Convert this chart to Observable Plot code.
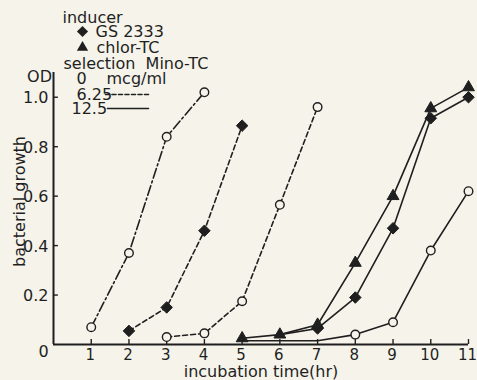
<!DOCTYPE html>
<html>
<head>
<meta charset="utf-8">
<script src="https://cdn.jsdelivr.net/npm/d3@7"></script>
<script src="https://cdn.jsdelivr.net/npm/@observablehq/plot@0.6"></script>
<style>
  html, body { margin: 0; padding: 0; background: #f5f3ea; }
  #chart svg { display: block; }
</style>
</head>
<body>
<div id="chart"></div>
<script>
// ---- data ----
const xTicks = [1, 2, 3, 4, 5, 6, 7, 8, 9, 10, 11];
const yTicks = [0.2, 0.4, 0.6, 0.8, 1.0];

// selection 0 mcg/ml (no inducer, open circles)
const hoursNone0 = [1, 2, 3, 4];
const odNone0 = [0.07, 0.37, 0.84, 1.02];
// selection 6.25 mcg/ml, inducer GS 2333
const hoursGS625 = [2, 3, 4, 5];
const odGS625 = [0.055, 0.15, 0.46, 0.885];
// selection 6.25 mcg/ml, no inducer
const hoursNone625 = [3, 4, 5, 6, 7];
const odNone625 = [0.03, 0.045, 0.175, 0.565, 0.96];
// selection 12.5 mcg/ml, inducer chlor-TC
const hoursTC125 = [5, 6, 7, 8, 9, 10, 11];
const odTC125 = [0.025, 0.04, 0.08, 0.33, 0.60, 0.955, 1.04];
// selection 12.5 mcg/ml, inducer GS 2333
const hoursGS125 = [6, 7, 8, 9, 10, 11];
const odGS125 = [0.04, 0.065, 0.19, 0.47, 0.915, 1.0];
// selection 12.5 mcg/ml, no inducer
const hoursNone125 = [5, 7, 8, 9, 10, 11];
const odNone125 = [0.015, 0.015, 0.04, 0.09, 0.38, 0.62];

const seriesList = [
  {key: "none-0",   inducer: "none",     dose: "0",    hours: hoursNone0,   od: odNone0,   firstMarker: 0},
  {key: "gs-625",   inducer: "GS 2333",  dose: "6.25", hours: hoursGS625,   od: odGS625,   firstMarker: 0},
  {key: "none-625", inducer: "none",     dose: "6.25", hours: hoursNone625, od: odNone625, firstMarker: 0},
  {key: "tc-125",   inducer: "chlor-TC", dose: "12.5", hours: hoursTC125,   od: odTC125,   firstMarker: 0},
  {key: "gs-125",   inducer: "GS 2333",  dose: "12.5", hours: hoursGS125,   od: odGS125,   firstMarker: 1},
  {key: "none-125", inducer: "none",     dose: "12.5", hours: hoursNone125, od: odNone125, firstMarker: 2}
];

const rows = [];
for (const s of seriesList) {
  s.hours.forEach((h, i) => rows.push({
    series: s.key, inducer: s.inducer, dose: s.dose, hours: h, od: s.od[i], marker: i >= s.firstMarker
  }));
}

const INK = "#1f1f1f";
const BG = "#f5f3ea";
const FS = 16;
const dashByDose = {"0": "10,3,2,3", "6.25": "5,3", "12.5": null};

const lineMarks = Object.keys(dashByDose).map(dose =>
  Plot.line(rows.filter(d => d.dose === dose), {
    x: "hours", y: "od", z: "series", stroke: INK, strokeWidth: 1.6,
    strokeDasharray: dashByDose[dose]
  })
);

const markers = rows.filter(d => d.marker);

// legend
const legendFont = {fill: INK, fontSize: FS, textAnchor: "start", frameAnchor: "top-left", lineAnchor: "middle"};
const lineShape = {draw(context, l) { context.moveTo(0, 0); context.lineTo(0, -l); }};

const chart = Plot.plot({
  width: 477,
  height: 380,
  marginLeft: 53,
  marginRight: 9,
  marginTop: 72,
  marginBottom: 36,
  x: {domain: [0, 11], axis: null},
  y: {domain: [0, 1.1], axis: null},
  style: {background: BG, color: INK, fontFamily: "'DejaVu Sans', sans-serif", fontSize: FS + "px"},
  marks: [
    // axes
    Plot.ruleY([0], {stroke: INK, strokeWidth: 2}),
    Plot.ruleX([0], {y1: 0, y2: 1.1, stroke: INK, strokeWidth: 2}),
    Plot.ruleY(yTicks, {x1: 0, x2: 0.13, stroke: INK, strokeWidth: 1.4}),
    Plot.ruleX(xTicks, {y1: 0, y2: 0.02, stroke: INK, strokeWidth: 1.4}),
    Plot.text(yTicks, {x: 0, y: d => d, text: d => d.toFixed(1), textAnchor: "end", dx: -5, dy: 1, lineAnchor: "middle", fill: INK, fontSize: FS, letterSpacing: "-0.8px"}),
    Plot.text(xTicks, {x: d => d, y: 0, text: d => String(d), dx: -1, dy: 11, lineAnchor: "middle", fill: INK, fontSize: 15, letterSpacing: "-0.8px"}),
    Plot.text(["0"], {x: 0, y: 0, text: d => d, dx: -10, dy: 7, lineAnchor: "middle", fill: INK, fontSize: FS}),
    Plot.text(["OD"], {x: 0, y: 1.1, text: d => d, dx: -14, dy: 4, lineAnchor: "middle", fill: INK, fontSize: FS, letterSpacing: "-0.5px"}),
    Plot.text(["incubation time(hr)"], {frameAnchor: "bottom", text: d => d, dy: 27, lineAnchor: "middle", textAnchor: "middle", fill: INK, fontSize: FS, letterSpacing: "1.4px"}),
    Plot.text(["bacterial growth"], {frameAnchor: "left", text: d => d, rotate: -90, dx: -34, dy: -7, lineAnchor: "middle", textAnchor: "middle", fill: INK, fontSize: FS, letterSpacing: "0.4px"}),
    // data
    ...lineMarks,
    Plot.dot(markers.filter(d => d.inducer === "none"), {x: "hours", y: "od", symbol: "circle", r: 4.3, fill: BG, stroke: INK, strokeWidth: 1.4}),
    Plot.dot(markers.filter(d => d.inducer === "GS 2333"), {x: "hours", y: "od", symbol: "diamond2", r: 5.2, fill: INK, stroke: INK, strokeWidth: 1}),
    Plot.dot(markers.filter(d => d.inducer === "chlor-TC"), {x: "hours", y: "od", symbol: "triangle", r: 4.4, fill: INK, stroke: INK, strokeWidth: 1}),
    // legend
    Plot.text(["inducer"], {...legendFont, text: d => d, dx: 9, dy: -55}),
    Plot.dot(["GS 2333"], {frameAnchor: "top-left", dx: 29, dy: -41, symbol: "diamond2", r: 5, fill: INK}),
    Plot.text(["GS 2333"], {...legendFont, text: d => d, dx: 42, dy: -41}),
    Plot.dot(["chlor-TC"], {frameAnchor: "top-left", dx: 29, dy: -25, symbol: "triangle", r: 4.2, fill: INK}),
    Plot.text(["chlor-TC"], {...legendFont, text: d => d, dx: 43, dy: -25}),
    Plot.text(["selection  Mino-TC"], {...legendFont, text: d => d, dx: 10, dy: -9}),
    Plot.text(["0"], {...legendFont, text: d => d, dx: 23, dy: 6}),
    Plot.text(["mcg/ml"], {...legendFont, text: d => d, dx: 53, dy: 6}),
    Plot.text(["6.25"], {...legendFont, text: d => d, dx: 23, dy: 22, letterSpacing: "-1.8px"}),
    Plot.vector(["6.25"], {frameAnchor: "top-left", dx: 52, dy: 22, length: 43, rotate: 90, anchor: "start", shape: lineShape, stroke: INK, strokeWidth: 1.6, strokeDasharray: "4,2.5"}),
    Plot.text(["12.5"], {...legendFont, text: d => d, dx: 18, dy: 36, letterSpacing: "-1.8px"}),
    Plot.vector(["12.5"], {frameAnchor: "top-left", dx: 54, dy: 36, length: 41, rotate: 90, anchor: "start", shape: lineShape, stroke: INK, strokeWidth: 1.6})
  ]
});
document.getElementById("chart").appendChild(chart);
</script>
</body>
</html>
